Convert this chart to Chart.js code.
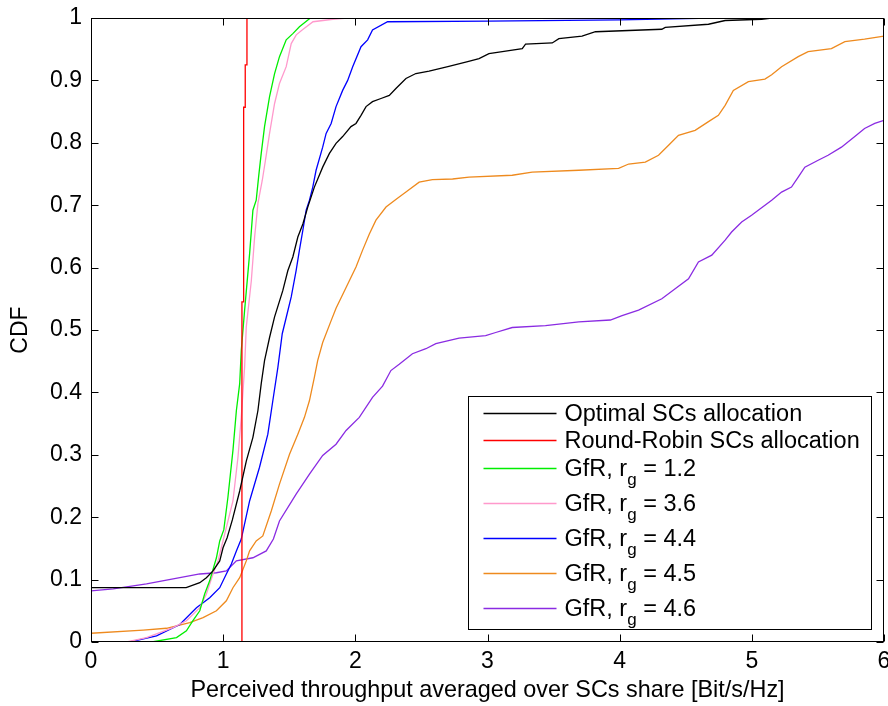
<!DOCTYPE html>
<html>
<head>
<meta charset="utf-8">
<script src="https://cdn.jsdelivr.net/npm/chart.js@4.4.1/dist/chart.umd.min.js"></script>
<style>
  html, body { margin: 0; padding: 0; background: #fff; }
</style>
</head>
<body>
<canvas id="cdfChart" width="888" height="706"></canvas>
<script>
// axis ticks
const xTicks = [0, 1, 2, 3, 4, 5, 6];
const yTicks = [0, 0.1, 0.2, 0.3, 0.4, 0.5, 0.6, 0.7, 0.8, 0.9, 1];

// series
const optimalX = [0, 0.72, 0.823, 0.873, 0.923, 0.974, 0.999, 1.03, 1.07, 1.125, 1.175, 1.225, 1.263, 1.288, 1.313, 1.351, 1.389, 1.451, 1.489, 1.527, 1.565, 1.603, 1.64, 1.69, 1.753, 1.804, 1.854, 1.904, 1.967, 2.005, 2.043, 2.081, 2.13, 2.194, 2.257, 2.307, 2.383, 2.458, 2.558, 2.7, 2.85, 2.936, 3.011, 3.112, 3.263, 3.288, 3.49, 3.54, 3.715, 3.817, 4.319, 4.345, 4.672, 4.798, 5.074, 5.15, 6];
const optimalY = [0.087, 0.087, 0.095, 0.103, 0.114, 0.13, 0.151, 0.167, 0.196, 0.242, 0.29, 0.328, 0.371, 0.414, 0.451, 0.488, 0.521, 0.563, 0.595, 0.617, 0.649, 0.67, 0.697, 0.729, 0.761, 0.783, 0.799, 0.81, 0.826, 0.831, 0.844, 0.858, 0.866, 0.871, 0.876, 0.887, 0.903, 0.911, 0.915, 0.922, 0.93, 0.935, 0.943, 0.946, 0.951, 0.958, 0.96, 0.967, 0.971, 0.978, 0.982, 0.985, 0.99, 0.996, 0.998, 1, 1];

const roundRobinX = [1.142, 1.142, 1.155, 1.155, 1.167, 1.167, 1.18, 1.18];
const roundRobinY = [0, 0.545, 0.545, 0.857, 0.857, 0.925, 0.925, 1];

const gfr12X = [0.46, 0.647, 0.722, 0.77, 0.823, 0.86, 0.898, 0.92, 0.949, 0.974, 1.005, 1.036, 1.074, 1.1, 1.125, 1.137, 1.162, 1.2, 1.225, 1.25, 1.268, 1.288, 1.313, 1.351, 1.389, 1.426, 1.477, 1.527, 1.577, 1.66];
const gfr12Y = [0, 0.007, 0.018, 0.034, 0.05, 0.077, 0.098, 0.114, 0.135, 0.162, 0.18, 0.232, 0.307, 0.371, 0.414, 0.467, 0.531, 0.622, 0.692, 0.708, 0.745, 0.783, 0.826, 0.874, 0.911, 0.938, 0.965, 0.975, 0.986, 1];

const gfr36X = [0.27, 0.42, 0.621, 0.722, 0.823, 0.873, 0.923, 0.961, 0.986, 1.02, 1.074, 1.112, 1.137, 1.162, 1.175, 1.213, 1.238, 1.263, 1.296, 1.32, 1.351, 1.389, 1.426, 1.477, 1.515, 1.553, 1.6, 1.68, 1.83, 1.94];
const gfr36Y = [0, 0.007, 0.023, 0.034, 0.055, 0.077, 0.109, 0.13, 0.151, 0.18, 0.226, 0.296, 0.36, 0.44, 0.505, 0.579, 0.649, 0.703, 0.74, 0.772, 0.815, 0.863, 0.895, 0.922, 0.959, 0.973, 0.981, 0.994, 0.998, 1];

const gfr44X = [0.294, 0.496, 0.672, 0.798, 0.898, 0.974, 1.024, 1.062, 1.1, 1.137, 1.2, 1.275, 1.338, 1.376, 1.414, 1.447, 1.477, 1.515, 1.552, 1.577, 1.603, 1.628, 1.653, 1.678, 1.703, 1.753, 1.779, 1.817, 1.854, 1.904, 1.942, 1.98, 2.043, 2.093, 2.13, 2.244, 3.0, 4.0, 4.7, 6];
const gfr44Y = [0, 0.01, 0.028, 0.055, 0.071, 0.087, 0.109, 0.125, 0.146, 0.165, 0.226, 0.28, 0.333, 0.387, 0.44, 0.494, 0.52, 0.553, 0.595, 0.628, 0.66, 0.692, 0.708, 0.729, 0.756, 0.793, 0.815, 0.831, 0.858, 0.884, 0.9, 0.922, 0.954, 0.965, 0.981, 0.994, 0.995, 0.997, 1, 1];

const gfr45X = [0, 0.395, 0.571, 0.747, 0.848, 0.949, 1.024, 1.074, 1.125, 1.175, 1.2, 1.25, 1.3, 1.364, 1.426, 1.502, 1.565, 1.615, 1.653, 1.69, 1.715, 1.753, 1.817, 1.854, 1.93, 2.005, 2.055, 2.106, 2.156, 2.232, 2.319, 2.383, 2.483, 2.583, 2.736, 2.86, 3.187, 3.338, 3.691, 3.992, 4.068, 4.194, 4.294, 4.37, 4.445, 4.571, 4.672, 4.747, 4.798, 4.86, 4.974, 5.099, 5.15, 5.225, 5.351, 5.426, 5.602, 5.704, 5.853, 6];
const gfr45Y = [0.014, 0.019, 0.022, 0.031, 0.039, 0.05, 0.066, 0.087, 0.103, 0.13, 0.146, 0.162, 0.17, 0.21, 0.253, 0.301, 0.333, 0.36, 0.387, 0.424, 0.451, 0.48, 0.515, 0.535, 0.568, 0.601, 0.628, 0.654, 0.676, 0.697, 0.711, 0.721, 0.737, 0.741, 0.742, 0.745, 0.748, 0.753, 0.756, 0.759, 0.766, 0.769, 0.78, 0.796, 0.812, 0.82, 0.834, 0.844, 0.86, 0.884, 0.898, 0.902, 0.909, 0.922, 0.938, 0.946, 0.951, 0.962, 0.966, 0.971];

const gfr46X = [0, 0.168, 0.42, 0.672, 0.823, 0.949, 1.024, 1.1, 1.225, 1.326, 1.38, 1.426, 1.552, 1.653, 1.753, 1.854, 1.93, 2.03, 2.13, 2.206, 2.269, 2.332, 2.432, 2.534, 2.609, 2.785, 2.986, 3.062, 3.187, 3.439, 3.691, 3.93, 4.018, 4.143, 4.319, 4.42, 4.521, 4.596, 4.697, 4.798, 4.847, 4.923, 4.998, 5.074, 5.15, 5.225, 5.3, 5.351, 5.401, 5.502, 5.577, 5.678, 5.779, 5.853, 5.93, 6];
const gfr46Y = [0.082, 0.085, 0.093, 0.103, 0.109, 0.111, 0.114, 0.13, 0.135, 0.146, 0.165, 0.194, 0.237, 0.269, 0.299, 0.317, 0.339, 0.36, 0.392, 0.41, 0.435, 0.445, 0.462, 0.47, 0.478, 0.487, 0.491, 0.496, 0.504, 0.507, 0.513, 0.516, 0.523, 0.532, 0.55, 0.566, 0.582, 0.609, 0.62, 0.644, 0.657, 0.673, 0.684, 0.696, 0.708, 0.721, 0.729, 0.745, 0.761, 0.772, 0.78, 0.793, 0.81, 0.823, 0.831, 0.836];

// "_g" marks the subscript in the legend
const seriesLabels = ['Optimal SCs allocation', 'Round-Robin SCs allocation', 'GfR, r_g = 1.2', 'GfR, r_g = 3.6', 'GfR, r_g = 4.4', 'GfR, r_g = 4.5', 'GfR, r_g = 4.6'];
const seriesColors = ['#000000', '#ff0000', '#00ee00', '#ff99cc', '#0000ff', '#ee8a1e', '#8a2be2'];
const seriesX = [optimalX, roundRobinX, gfr12X, gfr36X, gfr44X, gfr45X, gfr46X];
const seriesY = [optimalY, roundRobinY, gfr12Y, gfr36Y, gfr44Y, gfr45Y, gfr46Y];

const FONT = "'Liberation Sans', Arial, Helvetica, sans-serif";
Chart.defaults.font.family = FONT;
Chart.defaults.font.size = 23;
Chart.defaults.color = '#000';

function toPoints(xs, ys) {
  return xs.map((x, i) => ({ x: x, y: ys[i] }));
}

// MATLAB style box with ticks pointing inward on all four sides
const framePlugin = {
  id: 'frame',
  afterDatasetsDraw(chart) {
    const { ctx, chartArea: a, scales } = chart;
    const L = Math.round(a.left) + 0.5, R = Math.round(a.right) - 0.5;
    const T = Math.round(a.top) + 0.5, B = Math.round(a.bottom) - 0.5;
    const len = 7;
    ctx.save();
    ctx.strokeStyle = '#000';
    ctx.lineWidth = 1;
    ctx.beginPath();
    for (const v of xTicks) {
      const px = Math.round(scales.x.getPixelForValue(v)) + 0.5;
      ctx.moveTo(px, B); ctx.lineTo(px, B - len);
      ctx.moveTo(px, T); ctx.lineTo(px, T + len);
    }
    for (const v of yTicks) {
      const py = Math.round(scales.y.getPixelForValue(v)) + 0.5;
      ctx.moveTo(L, py); ctx.lineTo(L + len, py);
      ctx.moveTo(R, py); ctx.lineTo(R - len, py);
    }
    ctx.stroke();
    ctx.strokeRect(L, T, R - L, B - T);
    ctx.restore();
  }
};

// boxed legend in the lower right corner, with subscripts
const legendPlugin = {
  id: 'boxLegend',
  afterDraw(chart) {
    const { ctx, chartArea: a } = chart;
    const mainFont = '23.5px ' + FONT;
    const subFont = '17px ' + FONT;
    const parts = seriesLabels.map(s => {
      const i = s.indexOf('_');
      return i < 0 ? { a: s, sub: '', b: '' } : { a: s.slice(0, i), sub: s[i + 1], b: s.slice(i + 2) };
    });
    ctx.save();
    let maxW = 0;
    parts.forEach(p => {
      ctx.font = mainFont;
      let w = ctx.measureText(p.a + p.b).width;
      ctx.font = subFont;
      w += ctx.measureText(p.sub).width;
      maxW = Math.max(maxW, w);
    });
    const lineStart = 15, lineLen = 73, gap = 8, padR = 12;
    const heights = parts.map(p => p.sub ? 35 : 26.6);
    const boxW = lineStart + lineLen + gap + maxW + padR;
    const boxH = 3.4 + heights.reduce((s, h) => s + h, 0) + 2.4;
    const right = Math.round(a.right) - 12.5;
    const bottom = Math.round(a.bottom) - 12.5;
    const left = Math.round(right - boxW) + 0.5;
    const top = Math.round(bottom - boxH) + 0.5;
    ctx.fillStyle = '#fff';
    ctx.fillRect(left, top, right - left, bottom - top);
    ctx.strokeStyle = '#000';
    ctx.lineWidth = 1;
    ctx.strokeRect(left, top, right - left, bottom - top);

    let y = top + 3.4;
    parts.forEach((p, i) => {
      const cy = y + (p.sub ? 15.1 : 13.3);
      ctx.strokeStyle = seriesColors[i];
      ctx.lineWidth = 1.3;
      ctx.beginPath();
      ctx.moveTo(left + lineStart, Math.round(cy) + 0.5);
      ctx.lineTo(left + lineStart + lineLen, Math.round(cy) + 0.5);
      ctx.stroke();
      ctx.fillStyle = '#000';
      ctx.textBaseline = 'alphabetic';
      ctx.textAlign = 'left';
      let tx = left + lineStart + lineLen + gap;
      ctx.font = mainFont;
      ctx.fillText(p.a, tx, cy + 8);
      tx += ctx.measureText(p.a).width;
      if (p.sub) {
        ctx.font = subFont;
        ctx.fillText(p.sub, tx, cy + 16.5);
        tx += ctx.measureText(p.sub).width;
        ctx.font = mainFont;
        ctx.fillText(p.b, tx, cy + 8);
      }
      y += heights[i];
    });
    ctx.restore();
  }
};

const datasets = seriesLabels.map((label, i) => ({
  label: label,
  data: toPoints(seriesX[i], seriesY[i]),
  borderColor: seriesColors[i],
  backgroundColor: seriesColors[i],
  borderWidth: 1.3,
  showLine: true,
  pointRadius: 0,
  tension: 0,
  fill: false
}));

const tickText = v => String(Number(v.toFixed(1)));

const chart = new Chart(document.getElementById('cdfChart').getContext('2d'), {
  type: 'scatter',
  data: { datasets: datasets },
  options: {
    responsive: false,
    animation: false,
    layout: { padding: { top: 18, right: 4, left: 0, bottom: 0 } },
    plugins: {
      legend: { display: false },
      tooltip: { enabled: false }
    },
    scales: {
      x: {
        type: 'linear',
        min: 0,
        max: 6,
        afterBuildTicks: s => { s.ticks = xTicks.map(v => ({ value: v })); },
        afterFit: s => { s.height = 64; s.paddingLeft = 0; s.paddingRight = 0; },
        grid: { display: false, drawTicks: false },
        border: { display: false },
        ticks: { padding: 6, maxRotation: 0, autoSkip: false, color: '#000', callback: tickText },
        title: {
          display: true,
          text: 'Perceived throughput averaged over SCs share [Bit/s/Hz]',
          color: '#000',
          font: { size: 23.4 },
          padding: { top: 0, bottom: 1 }
        }
      },
      y: {
        type: 'linear',
        min: 0,
        max: 1,
        afterBuildTicks: s => { s.ticks = yTicks.map(v => ({ value: v })); },
        afterFit: s => { s.width = 91; s.paddingTop = 0; s.paddingBottom = 0; },
        grid: { display: false, drawTicks: false },
        border: { display: false },
        ticks: { padding: 9, autoSkip: false, color: '#000', callback: tickText },
        title: {
          display: true,
          text: 'CDF',
          color: '#000',
          padding: { top: 7, bottom: 0 }
        }
      }
    }
  },
  plugins: [framePlugin, legendPlugin]
});
</script>
</body>
</html>
